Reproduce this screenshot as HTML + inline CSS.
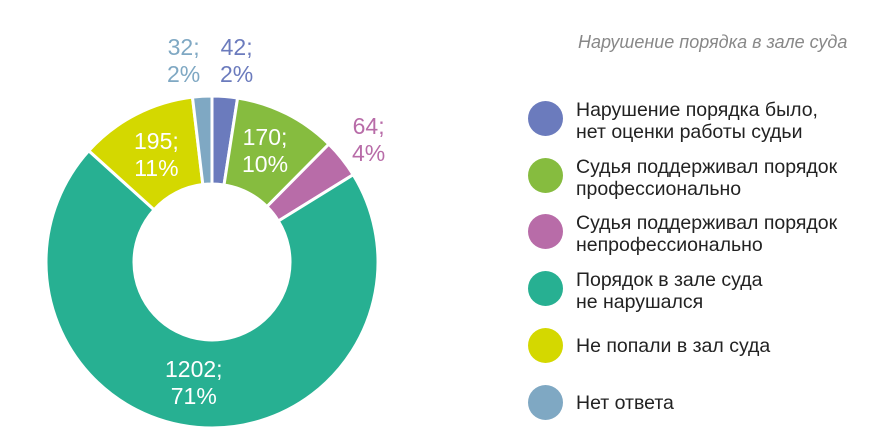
<!DOCTYPE html>
<html><head><meta charset="utf-8"><style>
body{margin:0;background:#fff;width:880px;height:446px;overflow:hidden;font-family:"Liberation Sans",sans-serif}
.t{position:absolute;font-size:23px;line-height:27px;text-align:center}
.lg{position:absolute;left:528px}
.dot{position:absolute;left:0;width:35px;height:35px;border-radius:50%}
.lt{position:absolute;left:48px;font-size:19.5px;line-height:22px;color:#222;white-space:nowrap}
</style></head><body>
<svg id="s" width="880" height="446" style="position:absolute;left:0;top:0"></svg>
<div class="t" style="left:167px;top:34px;color:#7fa8c3">32;<br>2%</div>
<div class="t" style="left:220px;top:34px;color:#6b7bbd">42;<br>2%</div>
<div class="t" style="left:352px;top:113px;color:#b86ca8">64;<br>4%</div>
<div class="t" style="left:242px;top:124px;color:#fff">170;<br>10%</div>
<div class="t" style="left:134px;top:128px;color:#fff">195;<br>11%</div>
<div class="t" style="left:165px;top:356px;color:#fff">1202;<br>71%</div>
<div style="position:absolute;left:578px;top:32px;font-size:18px;font-style:italic;color:#888;white-space:nowrap">Нарушение порядка в зале суда</div>
<div class="lg" style="top:101px"><div class="dot" style="background:#6b7bbd"></div><div class="lt" style="top:-2px">Нарушение порядка было,<br>нет оценки работы судьи</div></div>
<div class="lg" style="top:158px"><div class="dot" style="background:#86bc3f"></div><div class="lt" style="top:-2px">Судья поддерживал порядок<br>профессионально</div></div>
<div class="lg" style="top:214px"><div class="dot" style="background:#b86ca8"></div><div class="lt" style="top:-2px">Судья поддерживал порядок<br>непрофессионально</div></div>
<div class="lg" style="top:271px"><div class="dot" style="background:#27b092"></div><div class="lt" style="top:-2px">Порядок в зале суда<br>не нарушался</div></div>
<div class="lg" style="top:328px"><div class="dot" style="background:#d4d800"></div><div class="lt" style="top:7px">Не попали в зал суда</div></div>
<div class="lg" style="top:385px"><div class="dot" style="background:#7fa8c3"></div><div class="lt" style="top:7px">Нет ответа</div></div>
<script>
var d=[[42,"#6b7bbd"],[170,"#86bc3f"],[64,"#b86ca8"],[1202,"#27b092"],[195,"#d4d800"],[32,"#7fa8c3"]];
var cx=212,cy=262,R=166,r=78,tot=1705,a=0,h="";
function p(rad,an){return (cx+rad*Math.sin(an)).toFixed(2)+","+(cy-rad*Math.cos(an)).toFixed(2)}
d.forEach(function(x){var b=a+x[0]/tot*2*Math.PI,l=(b-a)>Math.PI?1:0;
h+='<path d="M'+p(R,a)+' A'+R+','+R+' 0 '+l+' 1 '+p(R,b)+' L'+p(r,b)+' A'+r+','+r+' 0 '+l+' 0 '+p(r,a)+' Z" fill="'+x[1]+'" stroke="#fff" stroke-width="3" stroke-linejoin="miter"/>';a=b;});
document.getElementById("s").innerHTML=h;
</script>
</body></html>
